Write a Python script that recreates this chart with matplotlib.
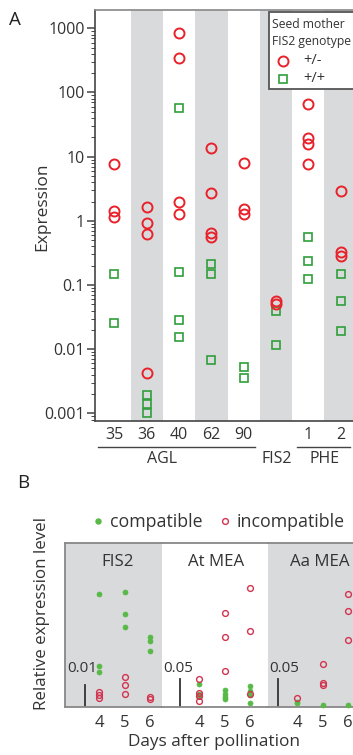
import matplotlib
matplotlib.use("Agg")
import matplotlib.pyplot as plt
from matplotlib.lines import Line2D
from matplotlib.patches import Rectangle
import matplotlib.ticker as mticker

plt.rcParams['font.family'] = ['Open Sans', 'DejaVu Sans']

W, H = 353, 755
TXT = '#333333'

# ---------------- Panel A data ----------------
genes = ['35', '36', '40', '62', '90', '', '1', '2']
het_35 = [7.8, 1.4, 1.15]
wt_35 = [0.15, 0.026]
het_36 = [1.65, 0.93, 0.63, 0.0042]
wt_36 = [0.0019, 0.0014, 0.00103]
het_40 = [860, 350, 2.0, 1.3]
wt_40 = [58, 0.157, 0.028, 0.0156]
het_62 = [13.8, 2.76, 0.65, 0.56]
wt_62 = [0.21, 0.146, 0.0068]
het_90 = [8.1, 1.52, 1.27]
wt_90 = [0.0053, 0.0036]
het_fis2 = [0.057, 0.05]
wt_fis2 = [0.039, 0.0118]
het_phe1 = [66, 19.8, 15.6, 7.6]
wt_phe1 = [0.56, 0.24, 0.126]
het_phe2 = [2.93, 0.33, 0.285]
wt_phe2 = [0.148, 0.057, 0.019]
het_all = [het_35, het_36, het_40, het_62, het_90, het_fis2, het_phe1, het_phe2]
wt_all = [wt_35, wt_36, wt_40, wt_62, wt_90, wt_fis2, wt_phe1, wt_phe2]
ytick_vals = [0.001, 0.01, 0.1, 1, 10, 100, 1000]
ytick_labels = ['0.001', '0.01', '0.1', '1', '10', '100', '1000']
legend_title = ['Seed mother', 'FIS2 genotype']
legend_labels = ['+/-', '+/+']

# ---------------- Panel B data ----------------
days = [4, 5, 6]
fis2_c4 = [0.0511, 0.0185, 0.0156]
fis2_c5 = [0.052, 0.042, 0.0364]
fis2_c6 = [0.0318, 0.0299, 0.0253]
fis2_i4 = [0.0066, 0.0052, 0.0040]
fis2_i5 = [0.0136, 0.0099, 0.0058]
fis2_i6 = [0.0043, 0.0034]
atmea_c4 = [0.041, 0.023, 0.0195]
atmea_c5 = [0.030, 0.024, 0.018, 0.0134]
atmea_c6 = [0.038, 0.029, 0.021, 0.007]
atmea_i4 = [0.0498, 0.0244, 0.0195, 0.0109]
atmea_i5 = [0.171, 0.127, 0.065]
atmea_i6 = [0.215, 0.138, 0.024]
aamea_c4 = [0.009, 0.006]
aamea_c5 = [0.003]
aamea_c6 = [0.003]
aamea_i4 = [0.0153]
aamea_i5 = [0.0776, 0.0425, 0.0395]
aamea_i6 = [0.205, 0.174, 0.121]
panel_titles = ['FIS2', 'At MEA', 'Aa MEA']
scale_vals = [0.01, 0.05, 0.05]
scale_labels = ['0.01', '0.05', '0.05']
compat = [[fis2_c4, fis2_c5, fis2_c6], [atmea_c4, atmea_c5, atmea_c6], [aamea_c4, aamea_c5, aamea_c6]]
incompat = [[fis2_i4, fis2_i5, fis2_i6], [atmea_i4, atmea_i5, atmea_i6], [aamea_i4, aamea_i5, aamea_i6]]


def fx(x):
    return x / W


def fy(y):
    return 1 - y / H


fig = plt.figure(figsize=(W / 100, H / 100), dpi=100)

# ================= Panel A =================
RED_A = '#e8222b'
GREEN_A = '#2f9e3a'
GRAY = '#d9dadc'
axA = fig.add_axes([fx(95), fy(421), fx(360 - 95), (421 - 10) / H])
axA.set_yscale('log')
axA.set_xlim(-0.6, 7.6)
axA.set_ylim(7.6e-4, 1928)
for i in range(len(genes)):
    if i % 2 == 1:
        axA.axvspan(i - 0.5, i + 0.5, color=GRAY, lw=0, zorder=0)
for i, (h, w) in enumerate(zip(het_all, wt_all)):
    axA.plot([i] * len(w), w, ls='none', marker='s', ms=6.3, mfc='none',
             mec=GREEN_A, mew=1.2, zorder=3)
    axA.plot([i] * len(h), h, ls='none', marker='o', ms=7.2, mfc='none',
             mec=RED_A, mew=1.4, zorder=4)
axA.set_yticks(ytick_vals)
axA.set_yticklabels(ytick_labels)
axA.yaxis.set_minor_locator(mticker.LogLocator(base=10, subs=range(2, 10), numticks=20))
axA.yaxis.set_minor_formatter(mticker.NullFormatter())
axA.tick_params(axis='y', which='major', length=6, width=1.1, color='#444444',
                labelsize=11.5, labelcolor=TXT, pad=1.5, direction='out')
axA.tick_params(axis='y', which='minor', length=3, width=0.7, color='#444444')
axA.set_xticks(range(len(genes)))
axA.set_xticklabels(genes)
axA.tick_params(axis='x', length=0, labelsize=11.5, labelcolor=TXT, pad=4)
for s in ['left', 'bottom']:
    axA.spines[s].set_color('#444444')
    axA.spines[s].set_linewidth(1.2)
axA.spines['top'].set_color('#888888')
axA.spines['top'].set_linewidth(1.2)
axA.spines['right'].set_visible(False)
fig.text(fx(42), fy(207), 'Expression', rotation=90, ha='center', va='center',
         fontsize=12.5, color=TXT)

# group lines under x labels
fig.add_artist(Line2D([fx(98), fx(255)], [fy(447), fy(447)], color='#444444', lw=1))
fig.add_artist(Line2D([fx(297), fx(350)], [fy(447), fy(447)], color='#444444', lw=1))
fig.text(fx(162), fy(459), 'AGL', ha='center', va='center', fontsize=11.5, color=TXT)
fig.text(fx(277), fy(459), 'FIS2', ha='center', va='center', fontsize=11.5, color=TXT)
fig.text(fx(325), fy(459), 'PHE', ha='center', va='center', fontsize=11.5, color=TXT)

# legend box for panel A (extends beyond the right edge like the reference)
fig.add_artist(Rectangle((fx(269), fy(89)), fx(100), (89 - 12) / H,
                         transform=fig.transFigure, facecolor='white',
                         edgecolor='#555555', lw=1.3, zorder=5))
fig.text(fx(272), fy(24), legend_title[0], ha='left', va='center', fontsize=8.7,
         color=TXT, zorder=6)
fig.text(fx(272), fy(41), legend_title[1], ha='left', va='center', fontsize=8.7,
         color=TXT, zorder=6)
fig.add_artist(Line2D([fx(283)], [fy(61)], ls='none', marker='o', ms=7.2, mfc='none',
                      mec=RED_A, mew=1.4, transform=fig.transFigure, zorder=6))
fig.add_artist(Line2D([fx(283)], [fy(79)], ls='none', marker='s', ms=6.3, mfc='none',
                      mec=GREEN_A, mew=1.2, transform=fig.transFigure, zorder=6))
fig.text(fx(303), fy(61), legend_labels[0], ha='left', va='center', fontsize=10.5,
         color=TXT, zorder=6)
fig.text(fx(303), fy(79), legend_labels[1], ha='left', va='center', fontsize=10.5,
         color=TXT, zorder=6)

fig.text(fx(15), fy(20), 'A', fontsize=13.5, ha='center', va='center', color='#222222')
fig.text(fx(23), fy(483), 'B', fontsize=13.5, ha='center', va='center', color='#222222')

# ================= Panel B =================
RED_B = '#d2344f'
GREEN_B = '#58b947'
bx = [(65, 162), (162, 268), (268, 380)]
day4_px = [99, 199, 297]
bar_px = [85, 180, 278]
lab_px = [82.5, 178.5, 284]
title_px = [118, 216, 320]
bar_len_px = [22, 27.5, 27.5]
unit = 25.5
top_px, bot_px = 543.3, 706.7
band_cols = [GRAY, 'white', GRAY]
for k in range(3):
    x0, x1 = bx[k]
    ax = fig.add_axes([fx(x0), fy(bot_px), fx(x1 - x0), (bot_px - top_px) / H])
    left = 4 - (day4_px[k] - x0) / unit
    ax.set_xlim(left, left + (x1 - x0) / unit)
    ax.set_ylim(0, scale_vals[k] * (bot_px - top_px) / bar_len_px[k])
    ax.set_facecolor(band_cols[k])
    for d, vals in zip(days, compat[k]):
        ax.plot([d] * len(vals), vals, ls='none', marker='o', ms=3.6,
                mfc=GREEN_B, mec=GREEN_B, mew=0.5, zorder=3, clip_on=False)
    for d, vals in zip(days, incompat[k]):
        ax.plot([d] * len(vals), vals, ls='none', marker='o', ms=4.2,
                mfc='none', mec=RED_B, mew=1.0, zorder=4, clip_on=False)
    bxpos = 4 - (day4_px[k] - bar_px[k]) / unit
    ax.plot([bxpos, bxpos], [0, scale_vals[k]], color='#333333', lw=1.3, zorder=2)
    lxpos = 4 - (day4_px[k] - lab_px[k]) / unit
    ax.text(lxpos, (bot_px - 668) / (bot_px - top_px), scale_labels[k],
            transform=ax.get_xaxis_transform(), ha='center', va='center',
            fontsize=11, color=TXT)
    ax.text(4 - (day4_px[k] - title_px[k]) / unit,
            (bot_px - 562) / (bot_px - top_px), panel_titles[k],
            transform=ax.get_xaxis_transform(), ha='center', va='center',
            fontsize=12.2, color=TXT)
    ax.set_xticks(days)
    ax.set_xticklabels([str(d) for d in days])
    ax.tick_params(axis='x', length=0, labelsize=12, labelcolor=TXT, pad=6)
    ax.set_yticks([])
    for s in ax.spines.values():
        s.set_color('#888888')
        s.set_linewidth(1.3)
    if k > 0:
        ax.spines['left'].set_visible(False)
    if k < 2:
        ax.spines['right'].set_visible(False)

fig.text(fx(214), fy(742), 'Days after pollination', ha='center', va='center',
         fontsize=12.4, color=TXT)
fig.text(fx(42), fy(614), 'Relative expression level', ha='center', va='center',
         rotation=90, fontsize=12.2, color=TXT)

legB_h = [Line2D([], [], ls='none', marker='o', ms=3.6, mfc=GREEN_B, mec=GREEN_B),
          Line2D([], [], ls='none', marker='o', ms=4.2, mfc='none', mec=RED_B, mew=1.0)]
legB = fig.legend(legB_h, ['compatible', 'incompatible'], loc='center',
                  bbox_to_anchor=(fx(219), fy(522)), ncol=2, frameon=False,
                  fontsize=12.8, handlelength=0.5, handletextpad=0.4,
                  columnspacing=1.0, borderaxespad=0)
for t in legB.get_texts():
    t.set_color(TXT)

fig.savefig('out.png', dpi=100)
